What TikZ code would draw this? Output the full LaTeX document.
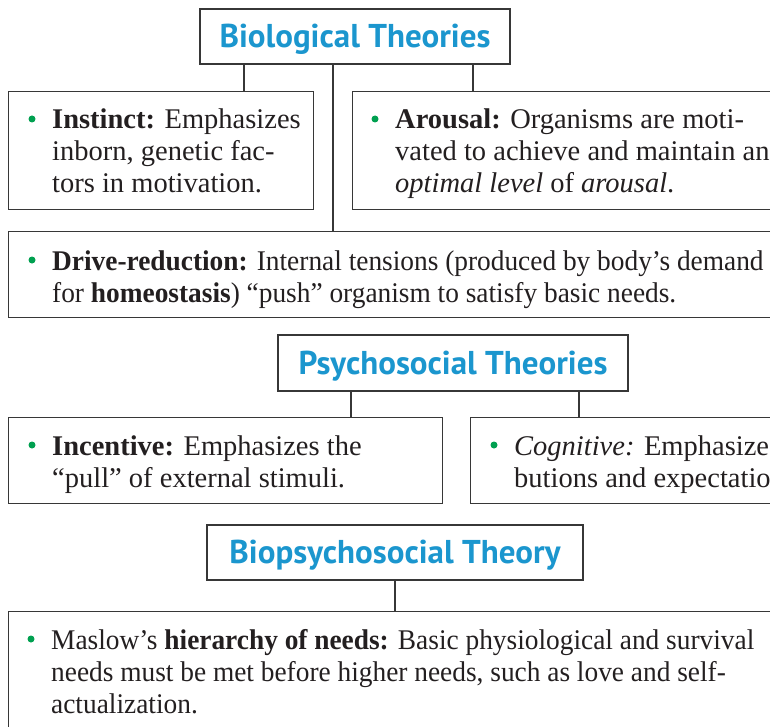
\documentclass[tikz,border=0pt]{standalone}
\usepackage{fontspec}
\setmainfont{Liberation Serif}
\newfontfamily\headfont{PT Sans}
\newfontfamily\condfont[FakeStretch=0.96]{Liberation Serif}
\definecolor{headblue}{RGB}{27,150,206}
\definecolor{bulgreen}{RGB}{0,160,80}
\definecolor{linegray}{RGB}{55,55,55}
\definecolor{inkblack}{RGB}{35,31,32}
\begin{document}
\begin{tikzpicture}[x=1pt,y=-1pt,
 box/.style={draw=linegray, line width=1.3pt, rectangle, inner sep=0pt, anchor=north west},
 head/.style={draw=linegray, line width=1.3pt, rectangle, inner sep=0pt,
   font=\headfont\bfseries\fontsize{33}{36}\selectfont, text=headblue,
   text height=22pt, text depth=0pt},
 body/.style={anchor=base west, inner sep=0pt, align=left,
   font=\fontsize{28.5}{32}\selectfont, text=inkblack},
 dot/.style={circle, fill=bulgreen, inner sep=0pt, minimum size=7pt},
 conn/.style={draw=linegray, line width=1.2pt}]
\useasboundingbox (0,0) rectangle (770,727);
\clip (0,0) rectangle (770,727);

% ---------- Biological ----------
\node[head, minimum width=310pt, minimum height=55pt] (bio) at (355,36.5) {Biological Theories};
\node[box, minimum width=305pt, minimum height=118pt] (instinct) at (8,91) {};
\node[box, minimum width=430pt, minimum height=118pt] (arousal) at (352,91) {};
\node[box, minimum width=780pt, minimum height=86pt] (drive) at (8,231) {};

\coordinate (c1) at (244,0);
\coordinate (c2) at (333,0);
\coordinate (c3) at (473,0);
\draw[conn] (bio.south -| c1) -- (instinct.north -| c1);
\draw[conn] (bio.south -| c2) -- (drive.north -| c2);
\draw[conn] (bio.south -| c3) -- (arousal.north -| c3);

% base anchor of a multi-line node = baseline of its last line
\node[dot] (d1) at (32,119) {};
\node[body] (t1) at (52,193) {\textbf{Instinct:} Emphasizes\\inborn, genetic fac-\\tors in motivation.};
\node[dot] (d2) at (375,119) {};
\node[body] (t2) at (395,193) {\textbf{Arousal:} Organisms are moti-\\vated to achieve and maintain an\\\textit{optimal level} of \textit{arousal}.};
\node[dot] (d3) at (32,260) {};
\node[body, font=\condfont\fontsize{28.5}{32}\selectfont] (t3) at (52,302) {\textbf{Drive-reduction:} Internal tensions (produced by body’s demand\\for \textbf{homeostasis}) “push” organism to satisfy basic needs.};

% ---------- Psychosocial ----------
\node[head, minimum width=350pt, minimum height=56pt] (psy) at (453,363) {Psychosocial Theories};
\node[box, minimum width=434pt, minimum height=86pt] (incentive) at (8,417) {};
\node[box, minimum width=310pt, minimum height=86pt] (cognitive) at (470,417) {};
\coordinate (c4) at (351,0);
\coordinate (c5) at (579,0);
\draw[conn] (psy.south -| c4) -- (incentive.north -| c4);
\draw[conn] (psy.south -| c5) -- (cognitive.north -| c5);

\node[dot] (d4) at (32,445) {};
\node[body] (t4) at (52,487) {\textbf{Incentive:} Emphasizes the\\“pull” of external stimuli.};
\node[dot] (d5) at (494,445) {};
\node[body] (t5) at (514,487) {\textit{Cognitive:} Emphasizes a\\butions and expectation};

% ---------- Biopsychosocial ----------
\node[head, minimum width=376pt, minimum height=55pt] (biopsy) at (395,552.5) {Biopsychosocial Theory};
\node[box, minimum width=780pt, minimum height=140pt] (maslow) at (8,611) {};
\coordinate (c6) at (395,0);
\draw[conn] (biopsy.south -| c6) -- (maslow.north -| c6);

\node[dot] (d6) at (31,639) {};
\node[body, font=\condfont\fontsize{28.5}{32}\selectfont] (t6) at (51,713) {Maslow’s \textbf{hierarchy of needs:} Basic physiological and survival\\needs must be met before higher needs, such as love and self-\\actualization.};
\end{tikzpicture}
\end{document}
